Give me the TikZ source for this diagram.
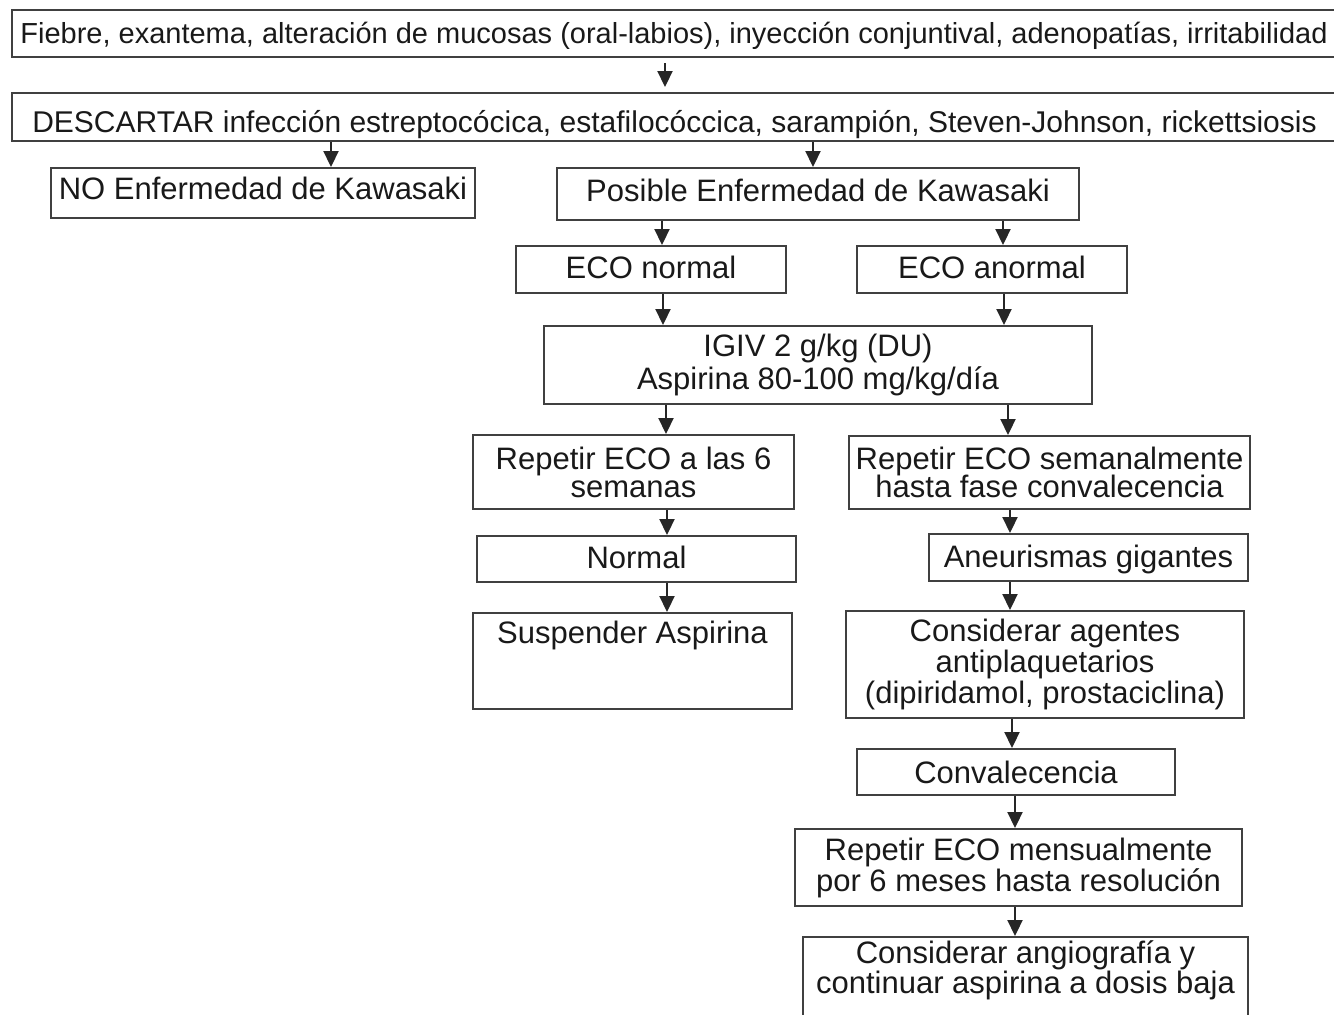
\documentclass[tikz,border=0pt]{standalone}
\usepackage{fontspec}
\setmainfont{Liberation Sans}
\usepackage{tikz}
\usetikzlibrary{arrows.meta,positioning}

\newcommand\letra[2][31]{\fontsize{#1}{#2}\selectfont\lineskiplimit=-\maxdimen}

\tikzset{
    caja/.style={draw=black!75,line width=2pt,rectangle,inner sep=0pt,align=center,text=black!90,font={\letra{31}}},
    flecha/.style={-{Triangle[length=16pt,width=15pt]},line width=2.2pt,black!85}
}

\begin{document}
\begin{tikzpicture}[x=1pt,y=-1pt]
            \useasboundingbox (0,0) rectangle (1334,1015);
            \node[caja,anchor=base,minimum width=1324pt,text height=33pt,text depth=14pt,font={\letra[29]{31}}] (sintomas) at (674,43) {Fiebre, exantema, alteración de mucosas (oral-labios), inyección conjuntival, adenopatías, irritabilidad};
            \node[caja,anchor=base,minimum width=1325pt,text height=39pt,text depth=9pt,font={\letra[30]{31}}] (descartar) at (674.5,132) {DESCARTAR infección estreptocócica, estafilocóccica, sarampión, Steven-Johnson, rickettsiosis};
            \node[caja,anchor=base,minimum width=424pt,text height=31pt,text depth=19pt] (noKawasaki) at (263,199) {NO Enfermedad de Kawasaki};
            \node[caja,anchor=base,minimum width=522pt,text height=33pt,text depth=19pt] (posible) at (818,201) {Posible Enfermedad de Kawasaki};
            \node[caja,anchor=base,minimum width=270pt,text height=32pt,text depth=15pt] (ecoNormal) at (651,278) {ECO normal};
            \node[caja,anchor=base,minimum width=270pt,text height=32pt,text depth=15pt] (ecoAnormal) at (992,278) {ECO anormal};
            \node[caja,minimum width=548pt,minimum height=78pt,font={\letra{33}}] (igiv) at (818,365) {IGIV 2 g/kg (DU)\\Aspirina 80-100 mg/kg/día};
            \node[caja,minimum width=321pt,minimum height=74pt,font={\letra{28}}] (repSeis) at (633.5,472) {Repetir ECO a las 6\\semanas};
            \node[caja,minimum width=401pt,minimum height=73pt,font={\letra{28}}] (repSemanal) at (1049.5,472.5) {Repetir ECO semanalmente\\hasta fase convalecencia};
            \node[caja,anchor=base,minimum width=319pt,text height=32pt,text depth=14pt] (normal) at (636.5,568) {Normal};
            \node[caja,anchor=base,minimum width=319pt,text height=33pt,text depth=14pt] (aneurismas) at (1088.5,567) {Aneurismas gigantes};
            \node[caja,anchor=base,minimum width=319pt,text height=30pt,text depth=66pt] (suspender) at (632.5,643) {Suspender Aspirina};
            \node[caja,minimum width=398pt,minimum height=107pt] (agentes) at (1045,664.5) {Considerar agentes\\antiplaquetarios\\(dipiridamol, prostaciclina)};
            \node[caja,anchor=base,minimum width=318pt,text height=34pt,text depth=12pt] (convalecencia) at (1016,783) {Convalecencia};
            \node[caja,minimum width=447pt,minimum height=77pt] (mensual) at (1018.5,867.5) {Repetir ECO mensualmente\\por 6 meses hasta resolución};
            \node[caja,anchor=north,minimum width=445pt,inner ysep=4pt,text depth=60pt,font={\letra{30}}] (angio) at (1025.5,936) {Considerar angiografía y\\continuar aspirina a dosis baja};
            \draw[flecha,shorten <=5pt,shorten >=5pt] (sintomas.south -| 665,0) -- (descartar.north -| 665,0);
            \draw[flecha] (descartar.south -| 331,0) -- (noKawasaki.north -| 331,0);
            \draw[flecha] (descartar.south -| 813,0) -- (posible.north -| 813,0);
            \draw[flecha] (posible.south -| 662,0) -- (ecoNormal.north -| 662,0);
            \draw[flecha] (posible.south -| 1003,0) -- (ecoAnormal.north -| 1003,0);
            \draw[flecha] (ecoNormal.south -| 663,0) -- (igiv.north -| 663,0);
            \draw[flecha] (ecoAnormal.south -| 1004,0) -- (igiv.north -| 1004,0);
            \draw[flecha] (igiv.south -| 666,0) -- (repSeis.north -| 666,0);
            \draw[flecha] (igiv.south -| 1008,0) -- (repSemanal.north -| 1008,0);
            \draw[flecha] (repSeis.south -| 667,0) -- (normal.north -| 667,0);
            \draw[flecha] (repSemanal.south -| 1010,0) -- (aneurismas.north -| 1010,0);
            \draw[flecha] (normal.south -| 667,0) -- (suspender.north -| 667,0);
            \draw[flecha] (aneurismas.south -| 1010,0) -- (agentes.north -| 1010,0);
            \draw[flecha] (agentes.south -| 1012,0) -- (convalecencia.north -| 1012,0);
            \draw[flecha] (convalecencia.south -| 1015,0) -- (mensual.north -| 1015,0);
            \draw[flecha] (mensual.south -| 1015,0) -- (angio.north -| 1015,0);
\end{tikzpicture}
\end{document}
